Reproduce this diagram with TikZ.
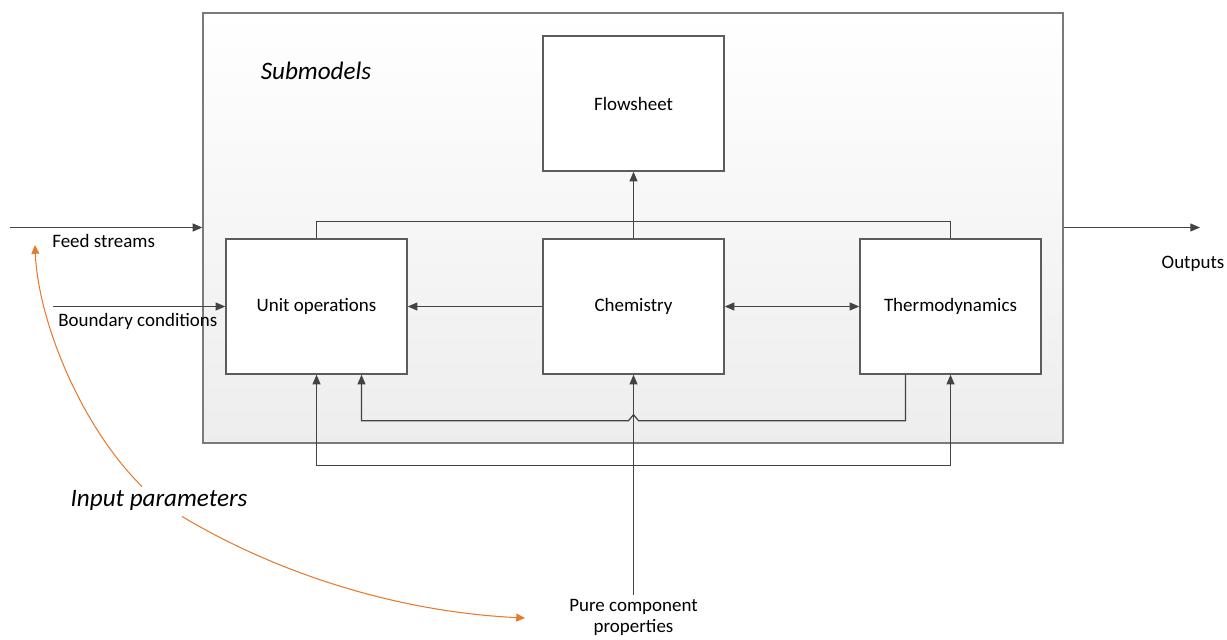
\documentclass[tikz,border=0pt]{standalone}
\usepackage{fontspec}
\setmainfont{Carlito}
\usepackage{xcolor}
\usepackage{tikz}
\usetikzlibrary{calc}
\usetikzlibrary{arrows.meta}

\definecolor{linegray}{HTML}{434343}
\definecolor{boxgray}{HTML}{5C5C5C}
\definecolor{framegray}{HTML}{7A7A7A}
\definecolor{paramorange}{HTML}{E47B2E}

\tikzset{
  frame/.style={draw=framegray, line width=0.8pt, top color=white, bottom color=black!7,
    minimum width=17.2cm, minimum height=8.6cm, inner sep=0pt},
  submodel/.style={draw=boxgray, line width=0.8pt, fill=white, minimum width=3.62cm,
    minimum height=2.7cm, inner sep=0pt, font=\fontsize{10.8}{13}\selectfont},
  flow/.style={draw=linegray, line width=0.7pt},
  tip/.tip={Triangle[length=5.5pt,width=4.5pt]},
  lbl/.style={font=\fontsize{10.8}{13}\selectfont, inner sep=0pt},
  bigitalic/.style={font=\fontsize{14.3}{17}\selectfont\itshape, inner sep=0pt},
  paramarrow/.style={draw=paramorange, line width=0.6pt, -{Triangle[length=5pt,width=4.5pt]}}
}

\begin{document}
\begin{tikzpicture}[x=0.02cm,y=-0.02cm]
    \useasboundingbox (0,0) rectangle (1227,639);

    % submodels frame and boxes
    \node[frame] (sub) at (633,228) {};
    \node[bigitalic] (subtitle) at (316,71) {Submodels};

    \node[submodel] (flow) at (633.5,103.5) {Flowsheet};
    \node[submodel] (unit) at (316.5,306.5) {Unit operations};
    \node[submodel] (chem) at (633.5,306.5) {Chemistry};
    \node[submodel] (thermo) at (950.5,306.5) {Thermodynamics};

    % links inside the frame
    \draw[flow,-tip] (chem.north)--(flow.south);
    \draw[flow] (unit.north)--++(0,-17) -| (thermo.north);
    \draw[flow,-tip] (chem.west)--(unit.east);
    \draw[flow,tip-tip] (chem.east)--(thermo.west);
    \draw[flow,-tip] ($(thermo.south)+(-45,0)$)--++(0,46)
        --($(chem.south)+(5,46)$)--++(-5,-6)--++(-5,6) -| ($(unit.south)+(45,0)$);
    \draw[flow,tip-tip] (unit.south)--++(0,91) -| (thermo.south);

    % inputs and outputs
    \coordinate (feedin) at (10,227.5);
    \coordinate (bcin) at (53,306.5);
    \coordinate (outend) at (1200,227.5);
    \draw[flow,-tip] (feedin)--(feedin -| sub.west);
    \draw[flow,-tip] (bcin)--(unit.west);
    \draw[flow,-tip] (outend -| sub.east)--(outend);

    \node[lbl,anchor=west] (feedlbl) at (52,241) {Feed streams};
    \node[lbl,anchor=west] (bclbl) at (58,321) {Boundary conditions};
    \node[lbl] (outlbl) at (1193,264) {Outputs};

    \node[lbl,align=center,font=\fontsize{10.8}{12}\selectfont] (pure) at (633.5,617) {Pure component\\properties};
    \draw[flow,-tip] ($(pure.north)+(0,-3)$)--(chem.south);

    % input parameters
    \node[bigitalic] (inp) at (159,500) {Input parameters};
    \coordinate (ipfeed) at (35,245);
    \coordinate (ippure) at (525,618);
    \draw[paramarrow] ($(inp.north)+(-17,-3)$) .. controls (80,425) and (38,320) .. (ipfeed);
    \draw[paramarrow] ($(inp.south)+(23,6)$) .. controls (280,575) and (400,612) .. (ippure);
\end{tikzpicture}
\end{document}
